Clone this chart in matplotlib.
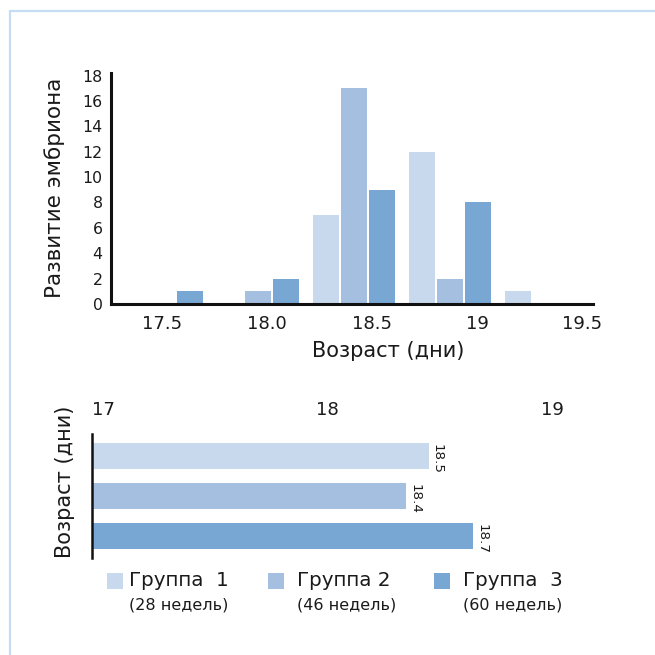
import matplotlib
matplotlib.use('Agg')
import matplotlib.pyplot as plt
import numpy as np
from matplotlib.lines import Line2D
from matplotlib.patches import Rectangle

plt.rcParams['font.family'] = ['DejaVu Sans']

#.........data...........................
bins = ['17.5', '18.0', '18.5', '19', '19.5']      # histogram bins (age, days)
group1 = [0, 0, 7, 12, 1]                           # 28 weeks
group2 = [0, 1, 17, 2, 0]                           # 46 weeks
group3 = [1, 2, 9, 8, 0]                            # 60 weeks

groups = ['Группа  1', 'Группа 2', 'Группа  3']
weeks = ['(28 недель)', '(46 недель)', '(60 недель)']
mean_age = [18.5, 18.4, 18.7]

colors = ['#c8d9ee', '#a4bfdf', '#79a7d3']
txt = '#1a1a1a'

W = 655.0
def fx(px): return px / W
def fy(py): return 1 - py / W

fig = plt.figure(figsize=(6.55, 6.55), dpi=100)

#.........top chart: distribution...........................
ax = fig.add_axes([fx(111), fy(304), fx(593) - fx(111), fy(73) - fy(304)])
x = np.arange(len(bins))
step = 28 / 96.0
width = 26 / 96.0
for k, vals in enumerate([group1, group2, group3]):
    ax.bar(x + (k - 1) * step, vals, width=width, color=colors[k], linewidth=0)

ax.set_xlim(-0.531, 4.49)
ax.set_ylim(0, 18.2)
ax.set_xticks(x * 105 / 96.0)
ax.set_xticklabels(bins)
ax.set_yticks(np.arange(0, 19, 2))
ax.tick_params(length=0, labelsize=13, pad=8, colors=txt)
ax.tick_params(axis='y', labelsize=11.3, pad=6)
for s in ['top', 'right']:
    ax.spines[s].set_visible(False)
for s in ['left', 'bottom']:
    ax.spines[s].set_linewidth(2.2)
    ax.spines[s].set_color('#111111')

fig.text(fx(55), fy(188), 'Развитие эмбриона', rotation=90, ha='center', va='center',
         fontsize=15.5, color=txt)
fig.text(fx(388), fy(351), 'Возраст (дни)', ha='center', va='center',
         fontsize=15, color=txt)

#.........bottom chart: mean age...........................
ax2 = fig.add_axes([fx(92), fy(558), fx(608) - fx(92), fy(434) - fy(558)])
y = np.arange(len(groups))
ax2.barh(y, np.array(mean_age) - 17, left=17, height=0.67, color=colors, linewidth=0)
for yi, v in zip(y, mean_age):
    ax2.annotate(str(v), (v, yi - 0.335), xytext=(1.5, -1), textcoords='offset points',
                 rotation=270, ha='left', va='top', fontsize=9.7, color=txt)
ax2.set_xlim(17, 19.3)
ax2.set_ylim(2.55, -0.55)
ax2.xaxis.tick_top()
ax2.set_xticks([17, 18, 19])
ax2.set_yticks([])
ax2.tick_params(length=0, labelsize=13, pad=11, colors=txt)
for lab in ax2.get_xticklabels():
    lab.set_ha('left')
for s in ['top', 'right', 'bottom']:
    ax2.spines[s].set_visible(False)
ax2.spines['left'].set_linewidth(1.8)
ax2.spines['left'].set_color('#111111')

fig.text(fx(65), fy(482), 'Возраст (дни)', rotation=90, ha='center', va='center',
         fontsize=15, color=txt)

#.........legend...........................
sq_x = [107, 268, 434]
txt_x = [129, 297, 463]
for k in range(3):
    fig.patches.append(Rectangle((fx(sq_x[k]), fy(589)), 16 / W, 16 / W,
                                 transform=fig.transFigure, color=colors[k], linewidth=0))
    fig.text(fx(txt_x[k]), fy(581), groups[k], ha='left', va='center',
             fontsize=14.3, color=txt)
    fig.text(fx(txt_x[k]), fy(605), weeks[k], ha='left', va='center',
             fontsize=11.5, color=txt)

#.........frame...........................
fig.add_artist(Line2D([fx(9), 1], [fy(10.5), fy(10.5)], color='#c6dcf2', linewidth=1.6,
                      solid_capstyle='butt'))
fig.add_artist(Line2D([fx(10), fx(10)], [fy(10), 0], color='#c6dcf2', linewidth=1.6,
                      solid_capstyle='butt'))

fig.savefig('out.png', dpi=100)
